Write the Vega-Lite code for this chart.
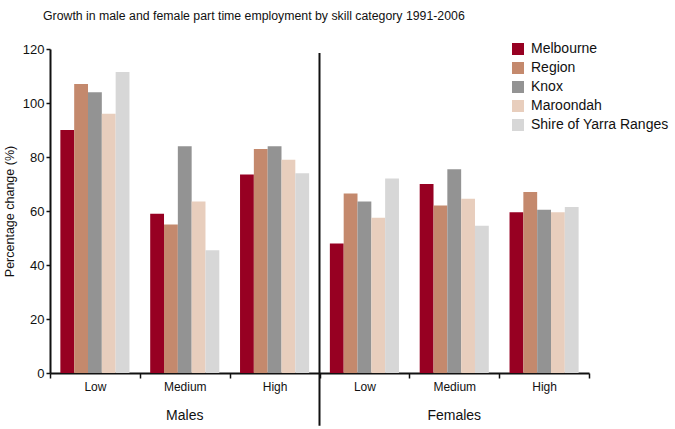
{
  "$schema": "https://vega.github.io/schema/vega-lite/v6.json",
  "width": 539,
  "height": 324,
  "autosize": {"type": "none"},
  "padding": {"left": 50, "top": 49, "right": 86, "bottom": 56},
  "background": "white",
  "config": {
    "font": "Liberation Sans",
    "view": {"stroke": null},
    "axis": {"labelColor": "#111", "titleColor": "#111", "domainColor": "#111", "tickColor": "#111", "grid": false}
  },
  "title": {
    "text": "Growth in male and female part time employment by skill category 1991-2006",
    "anchor": "start",
    "frame": "group",
    "fontSize": 12.3,
    "fontWeight": "normal",
    "color": "#111",
    "dx": -7,
    "offset": 20
  },
  "data": {
    "values": [
      {"cell": "Males|Low", "series": "Melbourne", "value": 90},
      {"cell": "Males|Low", "series": "Region", "value": 107},
      {"cell": "Males|Low", "series": "Knox", "value": 104},
      {"cell": "Males|Low", "series": "Maroondah", "value": 96},
      {"cell": "Males|Low", "series": "Shire of Yarra Ranges", "value": 111.5},
      {"cell": "Males|Medium", "series": "Melbourne", "value": 59},
      {"cell": "Males|Medium", "series": "Region", "value": 55},
      {"cell": "Males|Medium", "series": "Knox", "value": 84},
      {"cell": "Males|Medium", "series": "Maroondah", "value": 63.5},
      {"cell": "Males|Medium", "series": "Shire of Yarra Ranges", "value": 45.5},
      {"cell": "Males|High", "series": "Melbourne", "value": 73.5},
      {"cell": "Males|High", "series": "Region", "value": 83},
      {"cell": "Males|High", "series": "Knox", "value": 84},
      {"cell": "Males|High", "series": "Maroondah", "value": 79},
      {"cell": "Males|High", "series": "Shire of Yarra Ranges", "value": 74},
      {"cell": "Females|Low", "series": "Melbourne", "value": 48},
      {"cell": "Females|Low", "series": "Region", "value": 66.5},
      {"cell": "Females|Low", "series": "Knox", "value": 63.5},
      {"cell": "Females|Low", "series": "Maroondah", "value": 57.5},
      {"cell": "Females|Low", "series": "Shire of Yarra Ranges", "value": 72},
      {"cell": "Females|Medium", "series": "Melbourne", "value": 70},
      {"cell": "Females|Medium", "series": "Region", "value": 62},
      {"cell": "Females|Medium", "series": "Knox", "value": 75.5},
      {"cell": "Females|Medium", "series": "Maroondah", "value": 64.5},
      {"cell": "Females|Medium", "series": "Shire of Yarra Ranges", "value": 54.5},
      {"cell": "Females|High", "series": "Melbourne", "value": 59.5},
      {"cell": "Females|High", "series": "Region", "value": 67},
      {"cell": "Females|High", "series": "Knox", "value": 60.5},
      {"cell": "Females|High", "series": "Maroondah", "value": 59.5},
      {"cell": "Females|High", "series": "Shire of Yarra Ranges", "value": 61.5}
    ]
  },
  "layer": [
    {
      "mark": {"type": "bar"},
      "encoding": {
        "x": {
          "field": "cell",
          "type": "nominal",
          "sort": ["Males|Low", "Males|Medium", "Males|High", "Females|Low", "Females|Medium", "Females|High"],
          "scale": {"type": "band", "paddingInner": 0, "paddingOuter": 0},
          "axis": {
            "title": null,
            "orient": "bottom",
            "labelExpr": "split(datum.value, '|')[1]",
            "labelAngle": 0,
            "labelFontSize": 12,
            "labelPadding": 3,
            "tickBand": "extent",
            "tickSize": 5,
            "tickWidth": 1.5,
            "domainWidth": 2
          }
        },
        "xOffset": {
          "field": "series",
          "type": "nominal",
          "sort": ["Melbourne", "Region", "Knox", "Maroondah", "Shire of Yarra Ranges"],
          "scale": {"paddingInner": 0, "paddingOuter": 0.75}
        },
        "y": {
          "field": "value",
          "type": "quantitative",
          "scale": {"domain": [0, 120], "nice": false},
          "axis": {
            "title": "Percentage change (%)",
            "titleFontSize": 12.5,
            "titleFontWeight": "normal",
            "titlePadding": 6,
            "values": [0, 20, 40, 60, 80, 100, 120],
            "labelFontSize": 13,
            "labelPadding": 2,
            "tickSize": 4,
            "tickWidth": 1.5,
            "domainWidth": 2
          }
        },
        "color": {
          "field": "series",
          "type": "nominal",
          "sort": ["Melbourne", "Region", "Knox", "Maroondah", "Shire of Yarra Ranges"],
          "scale": {"range": ["#970022", "#c4896d", "#939393", "#e8cebd", "#d7d7d7"]},
          "legend": {
            "title": null,
            "orient": "none",
            "legendX": 461,
            "legendY": -7,
            "symbolType": "square",
            "symbolSize": 144,
            "symbolStrokeWidth": 0,
            "labelFontSize": 14,
            "labelColor": "#111",
            "labelOffset": 6,
            "rowPadding": 5
          }
        }
      }
    },
    {
      "data": {"values": [{"gender": "Females"}]},
      "mark": {"type": "rule", "color": "#111", "strokeWidth": 2},
      "encoding": {
        "x": {
          "field": "gender",
          "type": "nominal",
          "bandPosition": 0,
          "scale": {"type": "band", "domain": ["Males", "Females"], "paddingInner": 0, "paddingOuter": 0},
          "axis": {
            "title": null,
            "orient": "bottom",
            "domain": false,
            "ticks": false,
            "labelAngle": 0,
            "labelFontSize": 14,
            "labelPadding": 35,
            "labelColor": "#111"
          }
        },
        "y": {"datum": -19.5},
        "y2": {"datum": 118.5}
      }
    }
  ],
  "resolve": {"scale": {"x": "independent"}}
}
